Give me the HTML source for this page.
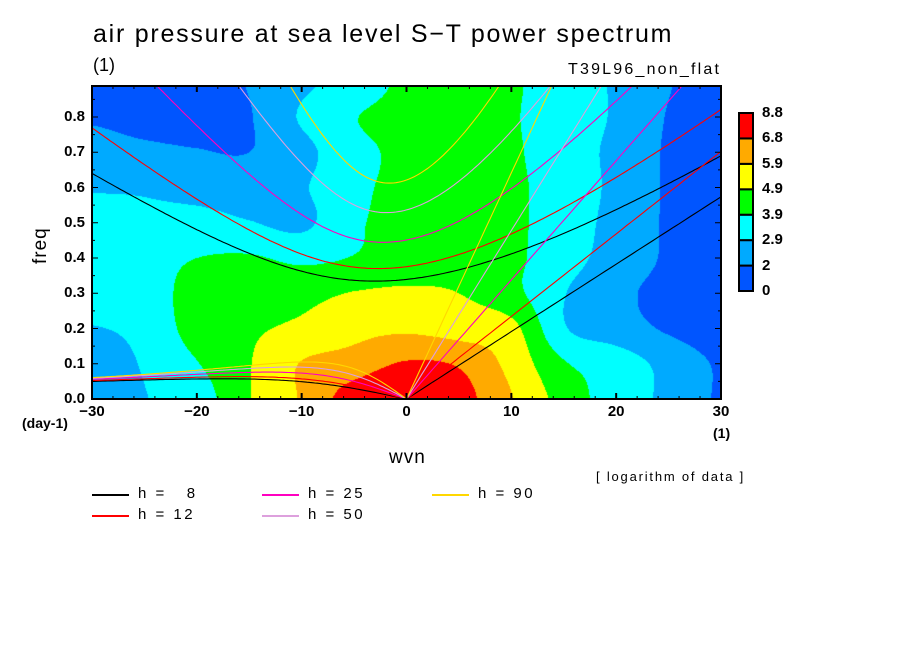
<!DOCTYPE html>
<html><head><meta charset="utf-8">
<style>
body{margin:0;background:#fff;width:904px;height:654px;overflow:hidden;position:relative;font-family:"Liberation Sans",sans-serif;}
.t{position:absolute;white-space:nowrap;color:#000;}
.tk{position:absolute;font-size:15px;font-weight:bold;white-space:nowrap;}
#plot-canvas{position:absolute;left:92px;top:86px;}
svg{position:absolute;left:0;top:0;}
</style></head><body>
<div class="t" style="left:93px;top:20px;font-size:25px;letter-spacing:1.75px;">air pressure at sea level S−T power spectrum</div>
<div class="t" style="left:93px;top:55px;font-size:18px;">(1)</div>
<div class="t" style="left:568px;top:61px;font-size:16px;letter-spacing:2.2px;">T39L96_non_flat</div>
<canvas id="plot-canvas" width="629" height="313"></canvas>
<svg id="svg" width="904" height="654"></svg>
<div class="t" style="left:30px;font-size:19px;letter-spacing:1px;transform:rotate(-90deg);transform-origin:left top;top:264px;">freq</div>
<div class="t" style="left:22px;top:415px;font-size:14px;font-weight:bold;">(day-1)</div>
<div class="t" style="left:389px;top:447px;font-size:19px;letter-spacing:1px;">wvn</div>
<div class="t" style="left:713px;top:425px;font-size:14px;font-weight:bold;">(1)</div>
<div class="t" style="left:596px;top:469px;font-size:13px;letter-spacing:1.8px;">[ logarithm of data ]</div>
<script>
const kNodes=[-30,-25,-20,-15,-10,-5,0,5,10,15,20,25,30];
const fNodes=[0,0.1,0.2,0.3,0.4,0.5,0.6,0.7,0.8,0.9];
const row0=[2.1,2.85,3.4,4.85,6.0,7.3,8.0,7.2,5.95,4.5,3.4,2.7,1.9];
const row1=[2.3,3.0,3.85,4.85,5.95,6.3,6.9,6.7,5.6,4.0,3.4,2.6,1.9];
const row2=[2.85,3.2,4.3,4.75,5.1,5.6,5.75,5.5,5.2,3.0,2.4,1.9,1.6];
const row3=[3.3,3.4,4.3,4.5,4.6,4.95,5.05,4.9,4.2,2.95,2.2,1.8,1.6];
const row4=[3.4,3.5,3.9,4.0,3.7,3.95,4.4,4.4,4.1,3.3,2.5,1.9,1.6];
const row5=[3.1,3.1,3.2,2.95,2.7,3.75,4.2,4.4,4.1,3.4,2.6,1.9,1.6];
const row6=[2.85,2.8,2.6,2.5,2.8,3.7,4.1,4.3,4.1,3.4,2.7,1.9,1.6];
const row7=[2.4,2.2,2.05,2.0,2.6,3.6,4.1,4.3,4.05,3.3,2.7,1.9,1.6];
const row8=[1.9,1.7,1.7,1.95,3.0,3.85,4.2,4.3,4.0,3.3,2.8,1.95,1.6];
const row9=[1.7,1.6,1.6,2.05,2.7,3.3,4.1,4.3,4.05,3.3,2.8,2.05,1.6];
const levels=[0,2,2.9,3.9,4.9,5.9,6.8,8.8];
const levelColors=["#0055ff","#00aaff","#00ffff","#00ff00","#ffff00","#ffaa00","#ff0000"];
const depths=[8,12,25,50,90];
const depthColors=["#000000","#ff0000","#ff00c0","#dda0dd","#ffd700"];
const xTicks=[-30,-20,-10,0,10,20,30];
const yTicks=[0,0.1,0.2,0.3,0.4,0.5,0.6,0.7,0.8];
const grid=[row0,row1,row2,row3,row4,row5,row6,row7,row8,row9];

const L=92,R=721,T=86,B=399,K0=-30,K1=30,PPF=352.5;
const X=k=>L+(k-K0)/(K1-K0)*(R-L);
const Y=f=>B-f*PPF;
const Kinv=px=>K0+(px-L)/(R-L)*(K1-K0);
const Finv=py=>(B-py)/PPF;

function cr(p0,p1,p2,p3,t){return 0.5*((2*p1)+(-p0+p2)*t+(2*p0-5*p1+4*p2-p3)*t*t+(-p0+3*p1-3*p2+p3)*t*t*t);}
function g(i,j){i=Math.max(0,Math.min(grid.length-1,i));j=Math.max(0,Math.min(kNodes.length-1,j));return grid[i][j];}
function field(k,f){
  const dk=kNodes[1]-kNodes[0],df=fNodes[1]-fNodes[0];
  let u=(k-kNodes[0])/dk,v=(f-fNodes[0])/df;
  let j=Math.min(kNodes.length-2,Math.max(0,Math.floor(u))),i=Math.min(fNodes.length-2,Math.max(0,Math.floor(v)));
  const tu=u-j,tv=v-i;const r=[];
  for(let m=-1;m<=2;m++)r.push(cr(g(i+m,j-1),g(i+m,j),g(i+m,j+1),g(i+m,j+2),tu));
  return cr(r[0],r[1],r[2],r[3],tv);
}
const cv=document.getElementById('plot-canvas');const ctx=cv.getContext('2d');
const img=ctx.createImageData(cv.width,cv.height);
const rgb=levelColors.map(h=>[parseInt(h.slice(1,3),16),parseInt(h.slice(3,5),16),parseInt(h.slice(5,7),16)]);
for(let py=0;py<cv.height;py++)for(let px=0;px<cv.width;px++){
  const val=field(Kinv(L+px+0.5),Finv(T+py+0.5));
  let c=0;for(let q=1;q<levels.length-1;q++)if(val>=levels[q])c=q;
  const o=(py*cv.width+px)*4;img.data[o]=rgb[c][0];img.data[o+1]=rgb[c][1];img.data[o+2]=rgb[c][2];img.data[o+3]=255;
}
ctx.putImageData(img,0,0);

const NS='http://www.w3.org/2000/svg';const svg=document.getElementById('svg');
function mk(tag,attrs,parent){const e=document.createElementNS(NS,tag);for(const a in attrs)e.setAttribute(a,attrs[a]);(parent||svg).appendChild(e);return e;}
const defs=mk('defs',{});const cp=mk('clipPath',{id:'clip'},defs);mk('rect',{x:L,y:T,width:R-L,height:B-T},cp);
const curves=mk('g',{'clip-path':'url(#clip)'});



const gr=9.81,beta=2.29e-11,a=6.371e6,toCpd=86400/(2*Math.PI);
function root(A,Cc,lo,hi){const fn=w=>w*w*w-A*w-Cc;let flo=fn(lo);for(let n=0;n<80;n++){const m=(lo+hi)/2,fm=fn(m);if((fm>0)===(flo>0)){lo=m;flo=fm;}else hi=m;}return (lo+hi)/2;}
depths.forEach((h,di)=>{
  const c=Math.sqrt(gr*h);const col=depthColors[di];
  let kel=[],ig=[],ros=[];
  for(let s=0;s<=30.001;s+=0.5){kel.push([X(s),Y(c*s/a*toCpd)]);}
  for(let s=-30;s<=30.001;s+=0.25){
    const kk=s/a,A=c*c*kk*kk+3*beta*c,Cc=beta*c*c*kk;
    const w=root(A,Cc,Math.sqrt(A)*0.5,Math.sqrt(A)*2+1e-9);ig.push([X(s),Y(w*toCpd)]);
    if(s<0){const wr=root(A,Cc,0,Math.sqrt(A/3));ros.push([X(s),Y(wr*toCpd)]);}
  }
  ros.push([X(0),Y(0)]);
  [['kelvin',kel],['inertia-gravity',ig],['rossby',ros]].forEach(([nm,pts])=>{
    const p=mk('polyline',{points:pts.map(q=>q[0].toFixed(1)+','+q[1].toFixed(1)).join(' '),fill:'none',stroke:col,'stroke-width':1.1},curves);
    
    
  });
});
const frame=mk('rect',{x:L,y:T,width:R-L,height:B-T,fill:'none',stroke:'#000','stroke-width':2});


for(let k=-30;k<=30;k+=2){const maj=k%10===0,len=maj?6:3;
  mk('line',{x1:X(k),x2:X(k),y1:B,y2:B-len,stroke:'#000','stroke-width':maj?2:1});
  mk('line',{x1:X(k),x2:X(k),y1:T,y2:T+len,stroke:'#000','stroke-width':maj?2:1});}
for(let i=0;i<=17;i++){const f=i*0.05,maj=i%2===0,len=maj?6:3;if(Y(f)<T)continue;
  mk('line',{x1:L,x2:L+len,y1:Y(f),y2:Y(f),stroke:'#000','stroke-width':1});
  mk('line',{x1:R,x2:R-len,y1:Y(f),y2:Y(f),stroke:'#000','stroke-width':1});}
xTicks.forEach(k=>{const d=document.createElement('div');d.className='tk';d.textContent=k<0?'−'+(-k):String(k);
  d.style.left=(X(k)-30)+'px';d.style.width='60px';d.style.textAlign='center';d.style.top=(B+4)+'px';
  
  
  document.body.appendChild(d);});
yTicks.forEach(f=>{const d=document.createElement('div');d.className='tk';d.textContent=f.toFixed(1);
  d.style.left='40px';d.style.width='45px';d.style.textAlign='right';d.style.top=(Y(f)-9)+'px';
  
  
  document.body.appendChild(d);});
const cbX=739,cbW=14,cbTop=113,cbBot=291,n=levelColors.length,bh=(cbBot-cbTop)/n;
levelColors.forEach((col,i)=>{const r=mk('rect',{x:cbX,y:cbBot-(i+1)*bh,width:cbW,height:bh,fill:col,stroke:'#000','stroke-width':2});
  
  });
levels.forEach((lv,i)=>{const d=document.createElement('div');d.className='tk';d.textContent=String(lv);
  d.style.left='762px';d.style.top=(cbBot-i*bh-9)+'px';d.style.fontSize='15px';
  
  
  document.body.appendChild(d);});
const legPos=[[92,495],[92,516],[262,495],[262,516],[432,495]];
depths.forEach((h,i)=>{const [lx,ly]=legPos[i];
  const ln=mk('line',{x1:lx,x2:lx+37,y1:ly,y2:ly,stroke:depthColors[i],'stroke-width':2});
  
  
  const d=document.createElement('div');d.className='t';d.style.left=(lx+46)+'px';d.style.top=(ly-10)+'px';d.style.fontSize='15px';d.style.letterSpacing='2.5px';
  d.textContent='h = '+(h<10?'\u00a0\u00a0':'')+h;
  
  
  document.body.appendChild(d);});
</script>
</body></html>
